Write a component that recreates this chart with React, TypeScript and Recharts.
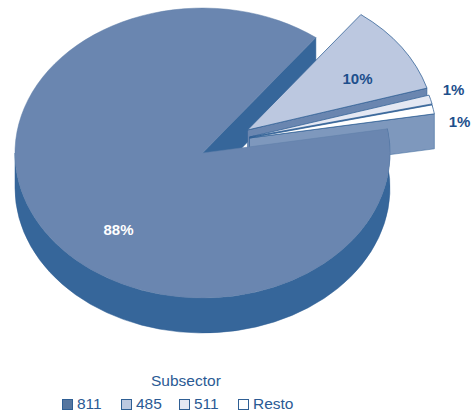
import React from 'react';
import { Legend, Pie, PieChart } from 'recharts';

const RADIAN = Math.PI / 180;

const categories = ['811', '485', '511', 'Resto'];
const shares = [88, 10, 1, 1];

const topColors = ['#6a86b0', '#bcc8e0', '#e4e8f3', '#ffffff'];
const wallColors = ['#36669a', '#6a86b0', '#36669a', '#7e98bd'];
const swatchColors = ['#56769f', '#bcc8e0', '#e4e8f3', '#ffffff'];

// how far each slice is pulled out of the pie, in px
const explodeX = [0, 45, 47, 47];
const explodeY = [0, -23, -16, -15];
// label position relative to the pie centre, in px
const labelX = [-84, 155, 251, 257];
const labelY = [76, -75, -64, -32];

const data = categories.map((name, i) => ({ name, value: shares[i] }));

const TILT = 0.773;
const DEPTH = 35;
const LINE = '#2f5f94';
const TEXT = '#1d4f8c';
const FONT = '"Liberation Sans", Arial, sans-serif';

const pt = (cx: number, cy: number, r: number, deg: number, drop = 0) => {
  const x = cx + r * Math.cos(deg * RADIAN);
  const y = cy - r * TILT * Math.sin(deg * RADIAN) + drop;
  return `${x.toFixed(2)} ${y.toFixed(2)}`;
};

const arc = (cx: number, cy: number, r: number, from: number, to: number, drop = 0) => {
  const sweep = to > from ? 0 : 1;
  const large = Math.abs(to - from) > 180 ? 1 : 0;
  return `A${r} ${r * TILT} 0 ${large} ${sweep} ${pt(cx, cy, r, to, drop)}`;
};

type Layer = 'back' | 'slices' | 'front';

// Draws one slice as a tilted sector with its side walls
const sliceShape = (layer: Layer) => (props: any) => {
  const i = categories.indexOf(props.name ?? props.payload?.name);
  const cx = props.cx + explodeX[i];
  const cy = props.cy + explodeY[i];
  const r = props.outerRadius;
  const lo = Math.min(props.startAngle, props.endAngle);
  const hi = Math.max(props.startAngle, props.endAngle);
  const isMain = i === 0;

  const radialWall = (
    <path
      d={`M${cx} ${cy} L${pt(cx, cy, r, lo)} L${pt(cx, cy, r, lo, DEPTH)} L${cx} ${cy + DEPTH} Z`}
      fill={wallColors[i]}
      stroke={LINE}
      strokeWidth={0.5}
    />
  );

  if (layer === 'back') return isMain ? radialWall : <g />;
  if (layer === 'slices' && isMain) return <g />;
  if (layer === 'front' && !isMain) return <g />;

  const top = `M${cx} ${cy} L${pt(cx, cy, r, lo)} ${arc(cx, cy, r, lo, hi)} Z`;
  const from = Math.max(lo, -180);
  const rim = `M${pt(cx, cy, r, from)} ${arc(cx, cy, r, from, hi)} L${pt(cx, cy, r, hi, DEPTH)} ${arc(cx, cy, r, hi, from, DEPTH)} Z`;

  return (
    <g>
      {!isMain && radialWall}
      {isMain && <path d={rim} fill={wallColors[i]} stroke={LINE} strokeWidth={0.5} />}
      <path d={top} fill={topColors[i]} stroke={isMain ? '#5f7ea9' : LINE} strokeWidth={isMain ? 0.5 : 0.75} />
    </g>
  );
};

const renderLabel = (props: any) => {
  const i = props.index;
  return (
    <text
      x={props.cx + labelX[i]}
      y={props.cy + labelY[i]}
      textAnchor="middle"
      dominantBaseline="central"
      fontFamily={FONT}
      fontSize={15}
      fontWeight="bold"
      fill={i === 0 ? '#ffffff' : TEXT}
    >
      {`${shares[i]}%`}
    </text>
  );
};

const swatchLeft = [62, 121, 179, 238];

const renderLegend = () => (
  <div style={{ position: 'relative', width: 471, height: 50, fontFamily: FONT, fontSize: 15.5, color: '#2a5a94' }}>
    <div style={{ position: 'absolute', left: 151, top: 0 }}>Subsector</div>
    {categories.map((name, i) => (
      <div key={name} style={{ position: 'absolute', left: swatchLeft[i], top: 23, display: 'flex', alignItems: 'center' }}>
        <span
          style={{
            display: 'inline-block',
            boxSizing: 'border-box',
            width: 11,
            height: 11,
            marginRight: 4,
            background: swatchColors[i],
            border: `1px solid ${LINE}`,
          }}
        />
        {name}
      </div>
    ))}
  </div>
);

const pieProps = {
  data,
  dataKey: 'value',
  nameKey: 'name',
  cx: 202.5,
  cy: 153,
  innerRadius: 0,
  outerRadius: 187.5,
  startAngle: 9.6,
  endAngle: -350.4,
  stroke: 'none',
  isAnimationActive: false,
  legendType: 'none' as const,
};

const App = () => (
  <div style={{ position: 'absolute', left: 0, top: 0 }}>
    <PieChart width={471} height={412} margin={{ top: 0, right: 0, bottom: 0, left: 0 }}>
      <Pie {...pieProps} shape={sliceShape('back')} />
      <Pie {...pieProps} shape={sliceShape('slices')} />
      <Pie {...pieProps} shape={sliceShape('front')} label={renderLabel} labelLine={false} />
      <Legend content={renderLegend} wrapperStyle={{ left: 0, top: 372, width: 471 }} />
    </PieChart>
  </div>
);

export default App;
